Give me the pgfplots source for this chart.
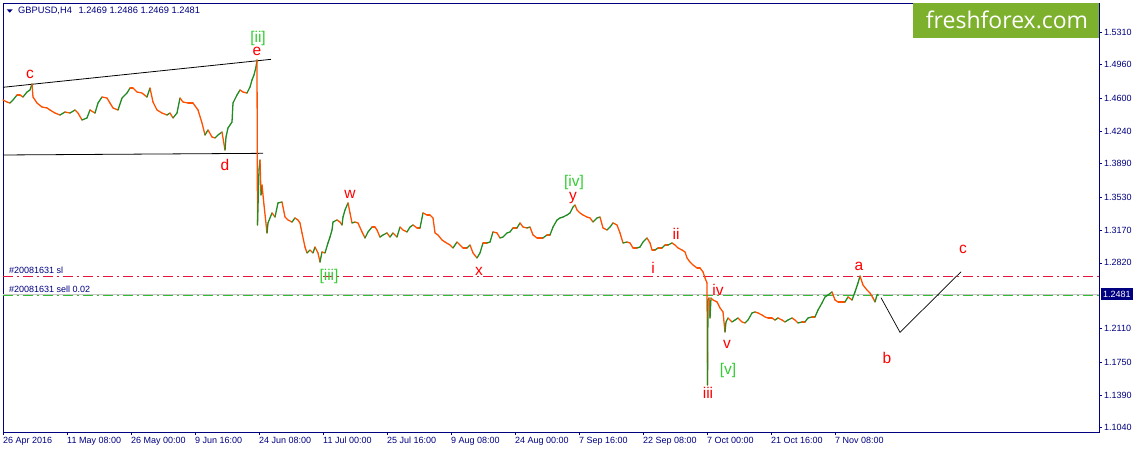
\documentclass[border=0pt]{standalone}
\usepackage{fontspec}
\setmainfont{Liberation Sans}
\newfontfamily\logofont{Open Sans}
\usepackage{pgfplots}
\pgfplotsset{compat=1.18}
\usepackage{pgfplotstable}
\definecolor{navy}{RGB}{0,0,128}
\definecolor{fxorange}{RGB}{255,80,0}
\definecolor{fxgreen}{RGB}{34,139,34}
\definecolor{wavered}{RGB}{255,0,0}
\definecolor{wavegreen}{RGB}{50,205,50}
\definecolor{slred}{RGB}{230,20,60}
\definecolor{selgreen}{RGB}{50,190,50}
\definecolor{logogreen}{RGB}{125,176,45}
\tikzset{
  wr/.style={text=wavered, font=\fontsize{15.5}{17}\selectfont, inner sep=0pt},
  wg/.style={text=wavegreen, font=\fontsize{15.5}{17}\selectfont, inner sep=0pt},
}

\pgfplotstableread{
x p m
3 1.4579 0
7 1.4557 0
10 1.4546 1
13 1.4579 1
17 1.4633 0
20 1.4633 0
23 1.4611 1
27 1.4665 1
30 1.4687 1
32 1.4752 0
33 1.4611 0
37 1.4546 0
42 1.4503 0
47 1.4493 0
50 1.4471 0
55 1.4438 0
60 1.4417 1
65 1.4449 0
70 1.4438 1
75 1.4471 0
78 1.4438 0
82 1.4363 1
87 1.4385 1
90 1.4471 0
95 1.4438 1
98 1.4546 1
102 1.4611 0
107 1.4600 0
110 1.4546 0
113 1.4493 0
118 1.4471 1
122 1.4600 1
127 1.4654 1
130 1.4708 0
133 1.4708 0
137 1.4665 0
142 1.4654 0
147 1.4611 1
150 1.4708 0
153 1.4557 0
157 1.4471 0
162 1.4438 0
167 1.4417 1
170 1.4438 0
173 1.4385 1
177 1.4438 1
180 1.4600 0
183 1.4557 0
188 1.4546 0
193 1.4546 0
198 1.4471 0
202 1.4331 0
205 1.4201 1
208 1.4255 0
212 1.4179 0
215 1.4169 1
218 1.4201 1
222 1.4233 0
225 1.4039 1
226 1.4179 1
228 1.4277 1
232 1.4341 1
233 1.4546 1
237 1.4633 1
240 1.4687 0
243 1.4665 0
247 1.4654 1
250 1.4719 1
252 1.4795 1
254 1.4849 1
256 1.4935 1
257 1.5011 0
257.5 1.3229 1
259 1.3823 1
260 1.3931 0
261 1.3553 1
262 1.3661 0
264 1.3445 0
267 1.3143 1
268 1.3251 1
272 1.3359 0
275 1.3315 1
278 1.3467 1
282 1.3477 0
285 1.3315 0
288 1.3283 0
292 1.3261 1
295 1.3305 0
298 1.3283 0
300 1.3251 0
302 1.3143 0
305 1.2991 0
307 1.2927 1
310 1.2959 0
313 1.2927 1
315 1.2991 0
318 1.2927 0
320 1.2829 1
322 1.2938 0
325 1.2927 1
328 1.3035 1
330 1.3099 1
332 1.3175 1
333 1.3261 1
337 1.3283 0
340 1.3261 0
342 1.3229 1
343 1.3315 1
345 1.3391 1
348 1.3467 0
350 1.3359 0
352 1.3251 1
355 1.3261 0
358 1.3251 0
362 1.3154 0
365 1.3089 1
368 1.3154 1
372 1.3207 0
375 1.3207 0
377 1.3175 0
380 1.3099 1
383 1.3121 1
387 1.3143 0
390 1.3099 1
393 1.3143 0
397 1.3099 1
400 1.3207 0
403 1.3175 0
407 1.3154 1
410 1.3207 1
413 1.3229 0
417 1.3197 0
420 1.3197 1
423 1.3359 0
427 1.3337 0
430 1.3337 0
433 1.3305 0
435 1.3143 0
438 1.3121 0
442 1.3067 0
445 1.3045 0
450 1.3013 0
453 1.2981 1
457 1.3045 0
460 1.3013 0
463 1.2981 0
467 1.2981 1
470 1.3013 0
473 1.2927 0
477 1.2873 1
480 1.2927 1
483 1.3035 0
487 1.3035 1
490 1.3045 1
493 1.3154 0
497 1.3143 0
500 1.3089 1
503 1.3099 1
507 1.3143 1
510 1.3154 1
513 1.3197 0
517 1.3197 1
520 1.3251 0
523 1.3207 0
527 1.3197 1
530 1.3207 0
533 1.3121 0
537 1.3089 0
540 1.3089 0
543 1.3089 1
547 1.3121 0
550 1.3121 1
553 1.3207 1
557 1.3283 1
560 1.3305 1
563 1.3315 1
567 1.3337 1
570 1.3359 1
573 1.3424 1
575 1.3445 0
577 1.3391 0
580 1.3359 0
583 1.3337 0
587 1.3315 0
590 1.3305 0
593 1.3261 1
597 1.3305 1
600 1.3315 0
603 1.3197 0
607 1.3175 1
610 1.3207 1
613 1.3251 0
617 1.3229 0
620 1.3143 0
623 1.3035 1
627 1.3045 0
630 1.3035 0
633 1.2981 0
637 1.2981 1
640 1.2991 1
643 1.3045 1
647 1.3089 0
650 1.3035 0
652 1.2959 0
655 1.2959 1
658 1.2981 0
662 1.2981 1
665 1.3013 0
668 1.3013 1
672 1.3035 0
675 1.3013 0
678 1.2981 0
682 1.2959 0
685 1.2938 0
687 1.2873 0
690 1.2829 0
693 1.2797 0
697 1.2765 0
700 1.2765 0
703 1.2722 0
705 1.2657 0
707 1.2603 0
707.5 1.1501 1
708 1.2419 1
709 1.2441 0
710 1.2225 1
711 1.2441 0
713 1.2419 0
717 1.2398 0
720 1.2333 0
723 1.2290 0
725 1.2074 1
726 1.2182 1
728 1.2225 0
732 1.2182 1
735 1.2203 1
738 1.2225 0
742 1.2182 0
745 1.2171 1
748 1.2203 1
752 1.2279 1
755 1.2290 0
758 1.2279 0
762 1.2257 0
765 1.2236 0
768 1.2225 0
772 1.2225 0
775 1.2203 1
778 1.2225 0
782 1.2203 0
785 1.2182 1
788 1.2203 1
792 1.2225 0
795 1.2203 0
798 1.2171 1
802 1.2182 0
805 1.2182 1
808 1.2225 1
812 1.2236 0
815 1.2236 1
818 1.2311 1
822 1.2387 1
825 1.2452 1
828 1.2473 1
832 1.2506 0
835 1.2419 0
838 1.2398 0
842 1.2398 0
845 1.2398 1
848 1.2452 0
852 1.2419 1
855 1.2506 1
858 1.2603 1
860 1.2678 0
863 1.2581 0
867 1.2527 0
870 1.2495 0
873 1.2441 0
875 1.2398 1
877 1.2473 1
878 1.2481 0
}\bars

\begin{document}
\begin{tikzpicture}
\useasboundingbox (0pt,0pt) rectangle (1139pt,452pt);
\begin{axis}[
  at={(3pt,20pt)}, anchor=south west,
  scale only axis, width=1096pt, height=429pt,
  xmin=3, xmax=1099, ymin=1.09936, ymax=1.56264,
  clip=false,
  axis line style={navy, line width=0.8pt},
  tick align=outside, major tick length=3pt,
  every tick/.style={navy, line width=0.6pt},
  xtick pos=bottom, ytick pos=right, yticklabel pos=right,
  xtick={3,67,131,195,259,323,387,451,515,579,643,707,771,835},
  xticklabels={26 Apr 2016,11 May 08:00,26 May 00:00,9 Jun 16:00,24 Jun 08:00,11 Jul 00:00,25 Jul 16:00,9 Aug 08:00,24 Aug 00:00,7 Sep 16:00,22 Sep 08:00,7 Oct 00:00,21 Oct 16:00,7 Nov 08:00},
  ytick={1.5310,1.4960,1.4600,1.4240,1.3890,1.3530,1.3170,1.2820,1.2110,1.1750,1.1390,1.1040},
  yticklabels={1.5310,1.4960,1.4600,1.4240,1.3890,1.3530,1.3170,1.2820,1.2110,1.1750,1.1390,1.1040},
  xticklabel style={anchor=north west, inner sep=0pt, font=\fontsize{9}{10}\selectfont, text=navy, yshift=-2pt},
  yticklabel style={anchor=west, inner sep=0pt, font=\fontsize{9}{10}\selectfont, text=navy, xshift=2pt},
  point meta min=0, point meta max=1,
  colormap={bars}{color=(fxorange) color=(fxgreen)},
]
% order lines
\addplot[gray!45, line width=0.8pt] coordinates {(3,1.2481) (1099,1.2481)};
\addplot[selgreen, line width=0.8pt, dash pattern=on 10pt off 4pt on 2pt off 4pt] coordinates {(3,1.2470) (1099,1.2470)};
\addplot[slred, line width=0.8pt, dash pattern=on 10pt off 4pt on 2pt off 4pt] coordinates {(3,1.2675) (1099,1.2675)};
% triangle lines
\addplot[black, line width=0.8pt] coordinates {(3,1.4716) (271,1.5018)};
\addplot[black, line width=0.8pt] coordinates {(3,1.3985) (263,1.4003)};
% price
\addplot[mesh, shader=flat corner, point meta=explicit, line width=1.3pt, line cap=round] table[x=x, y=p, meta=m] {\bars};
% projection
\addplot[black, line width=0.7pt] coordinates {(881,1.2444) (900,1.2070) (961,1.2724)};
% wave labels
\node[wr] at (axis cs:30,1.4860) {c};
\node[wg] at (axis cs:258,1.5238) {[ii]};
\node[wr] at (axis cs:257,1.5108) {e};
\node[wr] at (axis cs:225,1.3877) {d};
\node[wr] at (axis cs:350,1.3564) {w};
\node[wg] at (axis cs:329,1.2678) {[iii]};
\node[wr] at (axis cs:479,1.2732) {x};
\node[wg] at (axis cs:574,1.3683) {[iv]};
\node[wr] at (axis cs:573,1.3521) {y};
\node[wr] at (axis cs:653,1.2765) {i};
\node[wr] at (axis cs:676,1.3132) {ii};
\node[wr] at (axis cs:708,1.1415) {iii};
\node[wr] at (axis cs:718,1.2527) {iv};
\node[wr] at (axis cs:727,1.1944) {v};
\node[wg] at (axis cs:728,1.1653) {[v]};
\node[wr] at (axis cs:859,1.2786) {a};
\node[wr] at (axis cs:887,1.1793) {b};
\node[wr] at (axis cs:963,1.2970) {c};
% order texts
\node[anchor=base west, inner sep=0pt, text=navy, font=\fontsize{9}{10}\selectfont] at (axis cs:9,1.2700) {\#20081631 sl};
\node[anchor=base west, inner sep=0pt, text=navy, font=\fontsize{9}{10}\selectfont] at (axis cs:9,1.2495) {\#20081631 sell 0.02};
% current price box
\node[anchor=west, fill=navy, text=white, inner xsep=2pt, inner ysep=2pt, minimum height=12pt, font=\fontsize{9}{10}\selectfont] at (axis cs:1101,1.2481) {1.2481};
\end{axis}
% header
\fill[navy] (6.7pt,442.7pt) -- (12.7pt,442.7pt) -- (9.7pt,439.3pt) -- cycle;
\node[anchor=west, inner sep=0pt, text=navy, font=\fontsize{9.3}{10}\selectfont] at (18pt,441pt) {GBPUSD,H4\hspace{4pt} 1.2469 1.2486 1.2469 1.2481};
% logo
\fill[logogreen] (913pt,414pt) rectangle (1099pt,449pt);
\node[text=white, inner sep=0pt, font=\logofont\fontsize{23}{26}\selectfont] at (1007pt,432pt) {freshforex.com};
\end{tikzpicture}
\end{document}
